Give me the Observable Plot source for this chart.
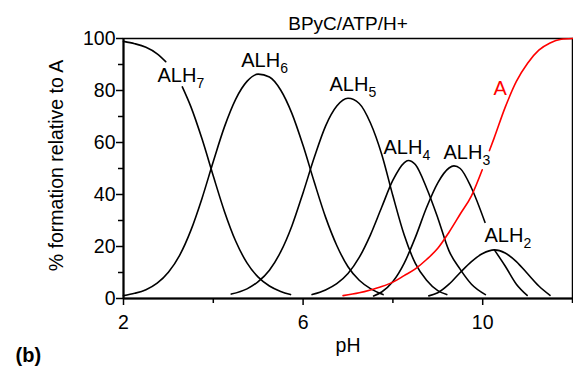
<!DOCTYPE html>
<html><head><meta charset="utf-8">
<script src="https://cdn.jsdelivr.net/npm/d3@7"></script>
<script src="https://cdn.jsdelivr.net/npm/@observablehq/plot@0.6"></script>
<style>body{margin:0;background:#fff}</style>
</head><body><div id="chart"></div>
<script>
// ---- data (pH, % formation) ; null = gap under a label
const alh7PH = [2.0, 2.25, 2.5, 2.75, 2.94, 3.1, 3.31, 3.5, 3.75, 4.0, 4.25, 4.5, 4.75, 5.0, 5.25, 5.5, 5.72];
const alh7   = [98.9, 98.0, 96.6, 94.1, 91.1, null, 81.4, 73.8, 61.3, 47.1, 33.4, 22.0, 13.7, 8.2, 4.8, 2.7, 1.5];

const alh6PH = [2.0, 2.25, 2.5, 2.75, 3.0, 3.25, 3.5, 3.75, 4.0, 4.25, 4.5, 4.75, 5.0, 5.25, 5.5, 5.75, 6.0, 6.25, 6.5, 6.75, 7.0, 7.25, 7.5, 7.78];
const alh6   = [1.1, 2.0, 3.4, 5.9, 10.1, 16.6, 26.2, 38.6, 52.7, 66.1, 76.7, 83.5, 86.3, 85.2, 80.2, 71.2, 58.8, 44.7, 31.3, 20.4, 12.2, 7.0, 3.8, 1.5];

const alh5PH = [4.4, 4.75, 5.0, 5.25, 5.5, 5.75, 6.0, 6.25, 6.5, 6.75, 7.0, 7.25, 7.5, 7.75, 8.0, 8.25, 8.5, 8.75, 9.0, 9.2];
const alh5   = [1.7, 3.7, 6.5, 10.9, 17.9, 27.9, 40.7, 54.3, 66.3, 74.0, 77.0, 75.0, 67.5, 55.5, 39.5, 24.5, 13.5, 7.0, 3.0, 1.5];

const alh4PH = [6.2, 6.5, 6.75, 7.0, 7.25, 7.5, 7.75, 8.0, 8.25, 8.34, 8.5, 8.75, 9.0, 9.25, 9.5, 9.75, 10.06];
const alh4   = [1.5, 3.3, 5.7, 9.6, 15.8, 24.5, 35.1, 45.5, 52.2, 53.1, 51.5, 42.5, 31.0, 18.3, 11.2, 5.5, 1.5];

const alh3PH = [7.57, 7.75, 8.0, 8.25, 8.5, 8.75, 9.0, 9.25, 9.36, 9.5, 9.75, 10.05, 10.15, 10.26, 10.5, 10.75, 10.99];
const alh3   = [1.0, 2.5, 6.5, 13.5, 23.5, 35.0, 44.5, 50.2, 51.0, 50.0, 42.5, 29.3, null, 18.7, 12.5, 5.5, 1.2];

const alh2PH = [8.8, 9.0, 9.25, 9.5, 9.75, 10.0, 10.26, 10.5, 10.75, 11.0, 11.25, 11.5];
const alh2   = [1.0, 2.2, 5.5, 10.0, 14.2, 17.3, 18.7, 17.5, 14.2, 9.5, 4.8, 1.2];

const aPH = [6.89, 7.25, 7.5, 7.75, 8.0, 8.25, 8.5, 8.75, 9.0, 9.25, 9.5, 9.75, 9.99, 10.07, 10.15, 10.25, 10.5, 10.75, 11.0, 11.25, 11.5, 11.75, 12.0];
const aVal = [1.1, 2.2, 3.3, 4.6, 6.3, 8.8, 11.4, 15.0, 19.3, 25.5, 32.5, 39.5, 49.5, null, 56.9, 61.5, 73.5, 83.5, 90.5, 95.5, 98.3, 99.7, 100];

// curve labels (main text, subscript, anchor pH, anchor %)
const labelMain = ["ALH", "ALH", "ALH", "ALH", "ALH", "ALH"];
const labelSub  = ["7", "6", "5", "4", "3", "2"];
const labelPH   = [2.757, 4.621, 6.588, 7.791, 9.127, 10.04];
const labelVal  = [83.2, 89.0, 80.0, 55.65, 53.7, 21.65];
const aLabel = {text: "A", pH: 10.24, v: 78.1};

// axes
const xTicks = [2, 6, 10];
const xMinor = [4, 8, 12];
const yTicks = [0, 20, 40, 60, 80, 100];
const yMinor = [10, 30, 50, 70, 90];

const title = "BPyC/ATP/H+";
const xLabel = "pH";
const yLabel = "% formation relative to A";
const panel = "(b)";

// ---- build tables
const rows = (xs, ys) => xs.map((x, i) => ({pH: x, v: ys[i]}));
const blackSeries = [rows(alh7PH, alh7), rows(alh6PH, alh6), rows(alh5PH, alh5), rows(alh4PH, alh4), rows(alh3PH, alh3), rows(alh2PH, alh2)];
const redSeries = rows(aPH, aVal);
const labels = labelMain.map((t, i) => ({t, s: labelSub[i], pH: labelPH[i], v: labelVal[i]}));

const lineOpts = {x: "pH", y: "v", curve: "monotone-x", strokeWidth: 1.6};

const plot = Plot.plot({
  width: 573, height: 367,
  marginLeft: 123, marginRight: 1, marginTop: 38, marginBottom: 69,
  style: {fontFamily: "'Liberation Sans', Arial, sans-serif", fontSize: "19.5px", background: "white", color: "black", overflow: "visible"},
  x: {domain: [2, 12], label: null},
  y: {domain: [0, 100], label: null},
  marks: [
    Plot.frame({stroke: "black", strokeWidth: 1.5}),
    Plot.axisY({ticks: yTicks, tickSize: 7, tickPadding: 1, strokeWidth: 1.5, fontSize: 19.5}),
    Plot.axisY({ticks: yMinor, tickSize: 5, tickFormat: () => "", strokeWidth: 1.5}),
    Plot.axisX({ticks: xTicks, tickSize: 7, tickPadding: 10, strokeWidth: 1.5, fontSize: 19.5}),
    Plot.axisX({ticks: xMinor, tickSize: 5, tickFormat: () => "", strokeWidth: 1.5}),
    Plot.ruleX([2], {strokeWidth: 2}),
    Plot.ruleY([0], {strokeWidth: 2}),
    ...blackSeries.map(d => Plot.line(d, {...lineOpts, stroke: "black"})),
    Plot.line(redSeries, {...lineOpts, stroke: "#ff0000"}),
    Plot.text(labels, {x: "pH", y: "v", text: "t", textAnchor: "start", lineAnchor: "bottom", fontSize: 20, fill: "black"}),
    Plot.text(labels, {x: "pH", y: "v", text: "s", textAnchor: "start", lineAnchor: "bottom", fontSize: 14, dx: 39, dy: 6, fill: "black"}),
    Plot.text([aLabel], {x: "pH", y: "v", text: "text", textAnchor: "start", lineAnchor: "bottom", fontSize: 20, fill: "#ff0000"}),
    Plot.text([title], {frameAnchor: "top", text: d => d, textAnchor: "middle", lineAnchor: "bottom", dy: -8.7, fontSize: 19}),
    Plot.text([xLabel], {frameAnchor: "bottom", text: d => d, textAnchor: "middle", lineAnchor: "bottom", dy: 53.7, fontSize: 19.5}),
    Plot.text([yLabel], {frameAnchor: "left", text: d => d, rotate: -90, textAnchor: "middle", lineAnchor: "bottom", dx: -61, dy: -3, fontSize: 19.5}),
    Plot.text([panel], {frameAnchor: "bottom-left", text: d => d, textAnchor: "start", lineAnchor: "bottom", dx: -108, dy: 63.7, fontSize: 20, fontWeight: "bold"})
  ]
});
document.getElementById("chart").appendChild(plot);
</script>
</body></html>
